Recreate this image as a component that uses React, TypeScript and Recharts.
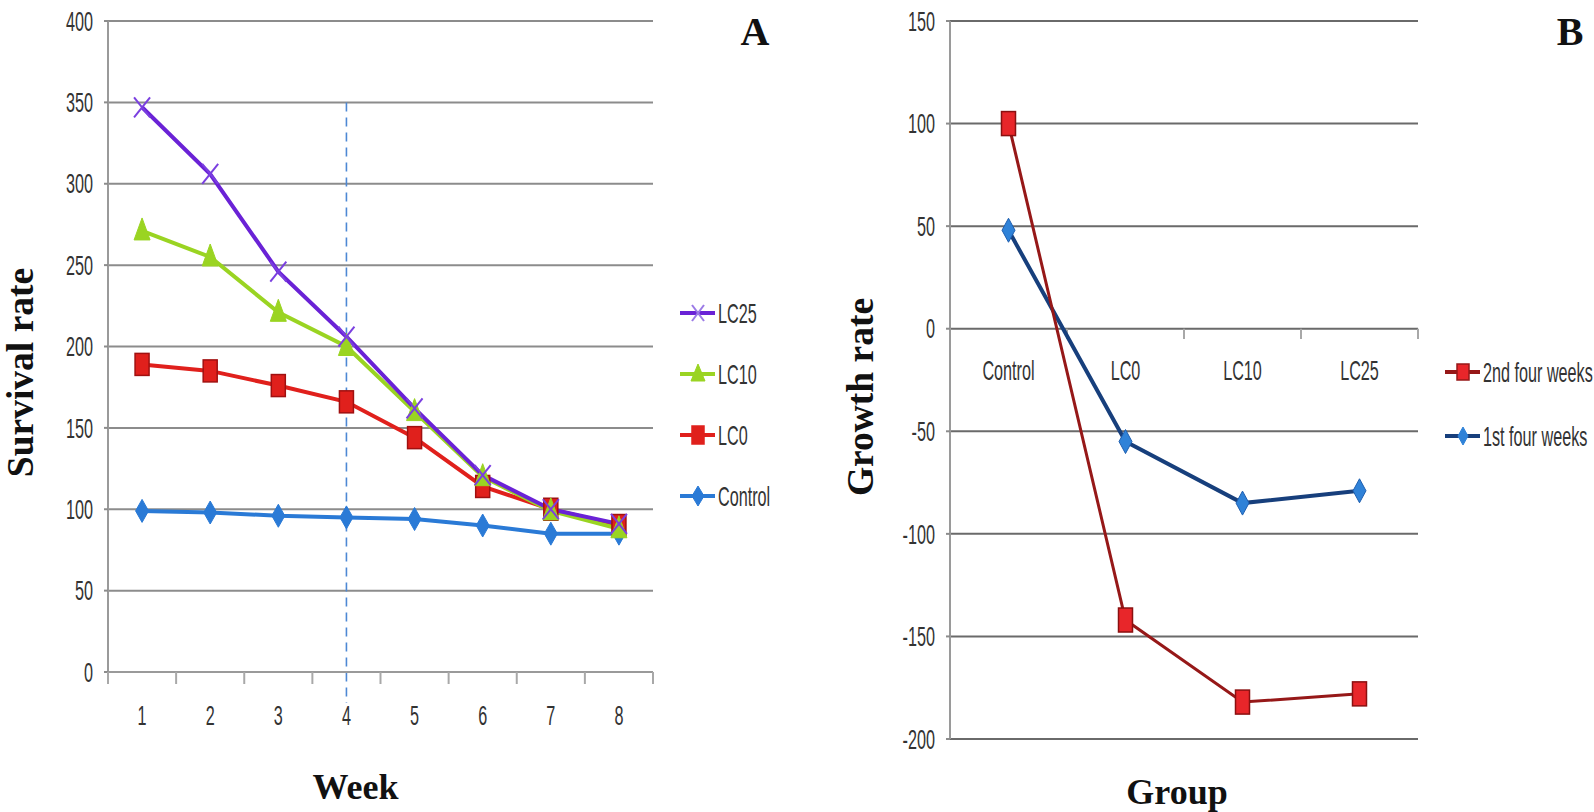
import React from 'react';
import { LineChart, Line, XAxis, YAxis, CartesianGrid, ReferenceLine, Legend, LabelList } from 'recharts';

// ---------- Panel A data ----------
const weeks = [1, 2, 3, 4, 5, 6, 7, 8];
const lc25 = [347, 306, 246, 206, 162, 121, 100, 91];
const lc10 = [271, 255, 221, 200, 160, 120, 99, 88];
const lc0 = [189, 185, 176, 166, 144, 114, 100, 90];
const control = [99, 98, 96, 95, 94, 90, 85, 85];
const survivalTicks = [0, 50, 100, 150, 200, 250, 300, 350, 400];
const weekTicks = [0.5, 1, 1.5, 2, 2.5, 3, 3.5, 4, 4.5, 5, 5.5, 6, 6.5, 7, 7.5, 8, 8.5];

// ---------- Panel B data ----------
const groups = ['Control', 'LC0', 'LC10', 'LC25'];
const secondFour = [100, -142, -182, -178];
const firstFour = [48, -55, -85, -79];
const growthTicks = [-200, -150, -100, -50, 0, 50, 100, 150];
const groupBoundaries = [0.5, 1.5, 2.5, 3.5];

const dataA = weeks.map((w, i) => ({ week: w, LC25: lc25[i], LC10: lc10[i], LC0: lc0[i], Control: control[i] }));
const dataB = groups.map((g, i) => ({ idx: i, group: g, second: secondFour[i], first: firstFour[i], zero: 0 }));

const C = {
  lc25: '#6a22d6',
  lc10: '#9ad422',
  lc0: '#e0201c',
  lc0Edge: '#a01010',
  control: '#2a7ad6',
  grid: '#8c8c8c',
  text: '#333333',
  secondLine: '#961818',
  secondMark: '#e8262a',
  firstLine: '#173f7c',
  firstMark: '#2f82d8',
};

const TICK_FONT = '"Liberation Sans", Arial, sans-serif';
const SERIF = '"Liberation Serif", "Times New Roman", serif';

// ---------- markers ----------
const XMark = (color: string, w = 8, h = 10) => (p: any) => {
  const { cx, cy } = p;
  if (cx == null || cy == null) return null;
  return (
    <g key={p.key ?? `${cx}-${cy}`}>
      <line x1={cx - w} y1={cy - h} x2={cx + w} y2={cy + h} stroke={color} strokeWidth={2} />
      <line x1={cx - w} y1={cy + h} x2={cx + w} y2={cy - h} stroke={color} strokeWidth={2} />
    </g>
  );
};
const TriMark = (color: string, w = 8, up = 13, down = 9) => (p: any) => {
  const { cx, cy } = p;
  if (cx == null || cy == null) return null;
  return (
    <polygon key={p.key ?? `${cx}-${cy}`} points={`${cx},${cy - up} ${cx - w},${cy + down} ${cx + w},${cy + down}`} fill={color} stroke={color} strokeWidth={1} />
  );
};
const SquareMark = (color: string, edge: string, w = 7, h = 11) => (p: any) => {
  const { cx, cy } = p;
  if (cx == null || cy == null) return null;
  return <rect key={p.key ?? `${cx}-${cy}`} x={cx - w} y={cy - h} width={w * 2} height={h * 2} fill={color} stroke={edge} strokeWidth={1.5} />;
};
const DiamondMark = (color: string, w = 6.5, h = 11.5, edge?: string) => (p: any) => {
  const { cx, cy } = p;
  if (cx == null || cy == null) return null;
  return (
    <polygon key={p.key ?? `${cx}-${cy}`} points={`${cx},${cy - h} ${cx + w},${cy} ${cx},${cy + h} ${cx - w},${cy}`} fill={color} stroke={edge ?? color} strokeWidth={1} />
  );
};

// ---------- ticks ----------
const YTick = (p: any) => {
  const { x, y, payload } = p;
  return (
    <g transform={`translate(${x},${y})`}>
      <text transform="scale(0.6,1)" textAnchor="end" dy="0.36em" fontSize={27} fill={C.text} fontFamily={TICK_FONT}>
        {payload.value}
      </text>
    </g>
  );
};

const WeekTick = (p: any) => {
  const { x, y, payload } = p;
  const v = payload.value;
  if (Number.isInteger(v)) {
    return (
      <g transform={`translate(${x},${y + 43})`}>
        <text transform="scale(0.6,1)" textAnchor="middle" dy="0.36em" fontSize={27} fill={C.text} fontFamily={TICK_FONT}>
          {v}
        </text>
      </g>
    );
  }
  return <line x1={x} y1={y} x2={x} y2={y + 12} stroke="#a8a8a8" strokeWidth={2} />;
};

const GroupLabel = (p: any) => {
  const { x, y, value } = p;
  return (
    <g transform={`translate(${x},${y + 42})`}>
      <text transform="scale(0.6,1)" textAnchor="middle" dy="0.36em" fontSize={27} fill={C.text} fontFamily={TICK_FONT}>
        {value}
      </text>
    </g>
  );
};

// ---------- legends ----------
type LegItem = { label: string; color: string; mark: (p: any) => any };
const makeLegend = (items: LegItem[], gap: number) => () => (
  <svg width={200} height={items.length * gap} style={{ display: 'block', overflow: 'visible' }}>
    {items.map((it, i) => {
      const cy = i * gap + 14;
      return (
        <g key={it.label}>
          <line x1={0} y1={cy} x2={35} y2={cy} stroke={it.color} strokeWidth={4} />
          {it.mark({ cx: 18, cy, key: it.label })}
          <g transform={`translate(38,${cy})`}>
            <text transform="scale(0.6,1)" dy="0.36em" fontSize={27} fill={C.text} fontFamily={TICK_FONT}>
              {it.label}
            </text>
          </g>
        </g>
      );
    })}
  </svg>
);

const legendA = makeLegend(
  [
    { label: 'LC25', color: C.lc25, mark: XMark('#9b7ae6', 6, 8) },
    { label: 'LC10', color: C.lc10, mark: TriMark(C.lc10, 7, 10, 7) },
    { label: 'LC0', color: C.lc0, mark: SquareMark(C.lc0, C.lc0, 6, 9) },
    { label: 'Control', color: C.control, mark: DiamondMark(C.control, 6, 10) },
  ],
  61
);

const legendB = makeLegend(
  [
    { label: '2nd four weeks', color: C.secondLine, mark: SquareMark(C.secondMark, C.secondLine, 6, 8) },
    { label: '1st four weeks', color: C.firstLine, mark: DiamondMark(C.firstMark, 5, 9) },
  ],
  64
);

const axisTitle = (text: string, dx: number, dy: number) => (p: any) => {
  const vb = p.viewBox;
  return (
    <text x={vb.x + vb.width / 2 + dx} y={vb.y + dy} textAnchor="middle" dominantBaseline="central" fontFamily={SERIF} fontWeight="bold" fontSize={36} fill="#111">
      {text}
    </text>
  );
};
const yTitle = (text: string, cxAbs: number, cyOffset: number) => (p: any) => {
  const vb = p.viewBox;
  const cx = vb.x + cxAbs;
  const cy = vb.y + vb.height / 2 + cyOffset;
  return (
    <text x={cx} y={cy} transform={`rotate(-90,${cx},${cy})`} textAnchor="middle" dominantBaseline="central" fontFamily={SERIF} fontWeight="bold" fontSize={37.5} fill="#111">
      {text}
    </text>
  );
};

const legendWrap = (left: number, top: number) => ({
  position: 'absolute' as const,
  left,
  top,
  width: 0,
  height: 0,
  overflow: 'visible' as const,
});

export default function App() {
  return (
    <div style={{ position: 'absolute', left: 0, top: 0, width: 1594, height: 812, background: '#fff' }}>
      {/* Panel A */}
      <div style={{ position: 'absolute', left: 0, top: 0 }}>
        <LineChart width={800} height={812} data={dataA} margin={{ top: 21, right: 147, left: 0, bottom: 80 }}>
          <CartesianGrid horizontal vertical={false} stroke={C.grid} strokeWidth={2} />
          <XAxis
            dataKey="week"
            type="number"
            domain={[0.5, 8.5]}
            ticks={weekTicks}
            interval={0}
            tick={WeekTick}
            tickLine={false}
            tickSize={0}
            tickMargin={0}
            height={60}
            axisLine={{ stroke: '#9a9a9a', strokeWidth: 2 }}
            label={{ content: axisTitle('Week', -25, 115) }}
          />
          <YAxis
            domain={[0, 400]}
            ticks={survivalTicks}
            interval={0}
            width={108}
            tick={YTick}
            tickLine={{ stroke: C.grid, strokeWidth: 2 }}
            tickSize={4}
            tickMargin={11}
            axisLine={{ stroke: '#9a9a9a', strokeWidth: 2 }}
            label={{ content: yTitle('Survival rate', 20, 26) }}
          />
          <ReferenceLine
            segment={[{ x: 4, y: 350 }, { x: 4, y: -19 }]}
            ifOverflow="visible"
            stroke="#4d88d4"
            strokeWidth={1.6}
            strokeDasharray="9 6"
          />
          <Line dataKey="Control" stroke={C.control} strokeWidth={4} dot={DiamondMark(C.control, 6.5, 11.5)} isAnimationActive={false} />
          <Line dataKey="LC0" stroke={C.lc0} strokeWidth={4} dot={SquareMark(C.lc0, C.lc0Edge, 7, 11)} isAnimationActive={false} />
          <Line dataKey="LC10" stroke={C.lc10} strokeWidth={4} dot={TriMark(C.lc10, 8, 13, 9)} isAnimationActive={false} />
          <Line dataKey="LC25" stroke={C.lc25} strokeWidth={4} dot={XMark('#7a3fe0', 8, 10)} isAnimationActive={false} />
          <Legend content={legendA} layout="vertical" align="right" verticalAlign="top" wrapperStyle={legendWrap(680, 299)} />
        </LineChart>
      </div>
      <div style={{ position: 'absolute', left: 700, top: 8, fontFamily: SERIF, fontWeight: 'bold', fontSize: 40, color: '#111', width: 110, textAlign: 'center' }}>A</div>

      {/* Panel B */}
      <div style={{ position: 'absolute', left: 820, top: 0 }}>
        <LineChart width={774} height={812} data={dataB} margin={{ top: 21, right: 176, left: 0, bottom: 13 }}>
          <CartesianGrid horizontal vertical={false} stroke="#6a6a6a" strokeWidth={2} />
          <XAxis
            dataKey="idx"
            type="number"
            domain={[-0.5, 3.5]}
            ticks={groupBoundaries}
            tick={false}
            tickLine={false}
            axisLine={false}
            height={60}
            label={{ content: axisTitle('Group', -7, 53) }}
          />
          <YAxis
            domain={[-200, 150]}
            ticks={growthTicks}
            interval={0}
            width={130}
            tick={YTick}
            tickLine={{ stroke: C.grid, strokeWidth: 2 }}
            tickSize={4}
            tickMargin={11}
            axisLine={{ stroke: '#9a9a9a', strokeWidth: 2 }}
            label={{ content: yTitle('Growth rate', 40, 17) }}
          />
          {groupBoundaries.map((b) => (
            <ReferenceLine key={b} segment={[{ x: b, y: 0 }, { x: b, y: -5 }]} stroke="#a8a8a8" strokeWidth={2} />
          ))}
          <Line dataKey="zero" stroke="none" dot={false} legendType="none" isAnimationActive={false}>
            <LabelList dataKey="group" content={GroupLabel} />
          </Line>
          <Line dataKey="first" stroke={C.firstLine} strokeWidth={4} dot={DiamondMark(C.firstMark, 6.5, 12, '#1f5fb0')} isAnimationActive={false} />
          <Line dataKey="second" stroke={C.secondLine} strokeWidth={3} dot={SquareMark(C.secondMark, '#8a1010', 7, 12)} isAnimationActive={false} />
          <Legend content={legendB} layout="vertical" align="right" verticalAlign="top" wrapperStyle={legendWrap(625, 358)} />
        </LineChart>
      </div>
      <div style={{ position: 'absolute', left: 1515, top: 8, fontFamily: SERIF, fontWeight: 'bold', fontSize: 40, color: '#111', width: 110, textAlign: 'center' }}>B</div>
    </div>
  );
}
